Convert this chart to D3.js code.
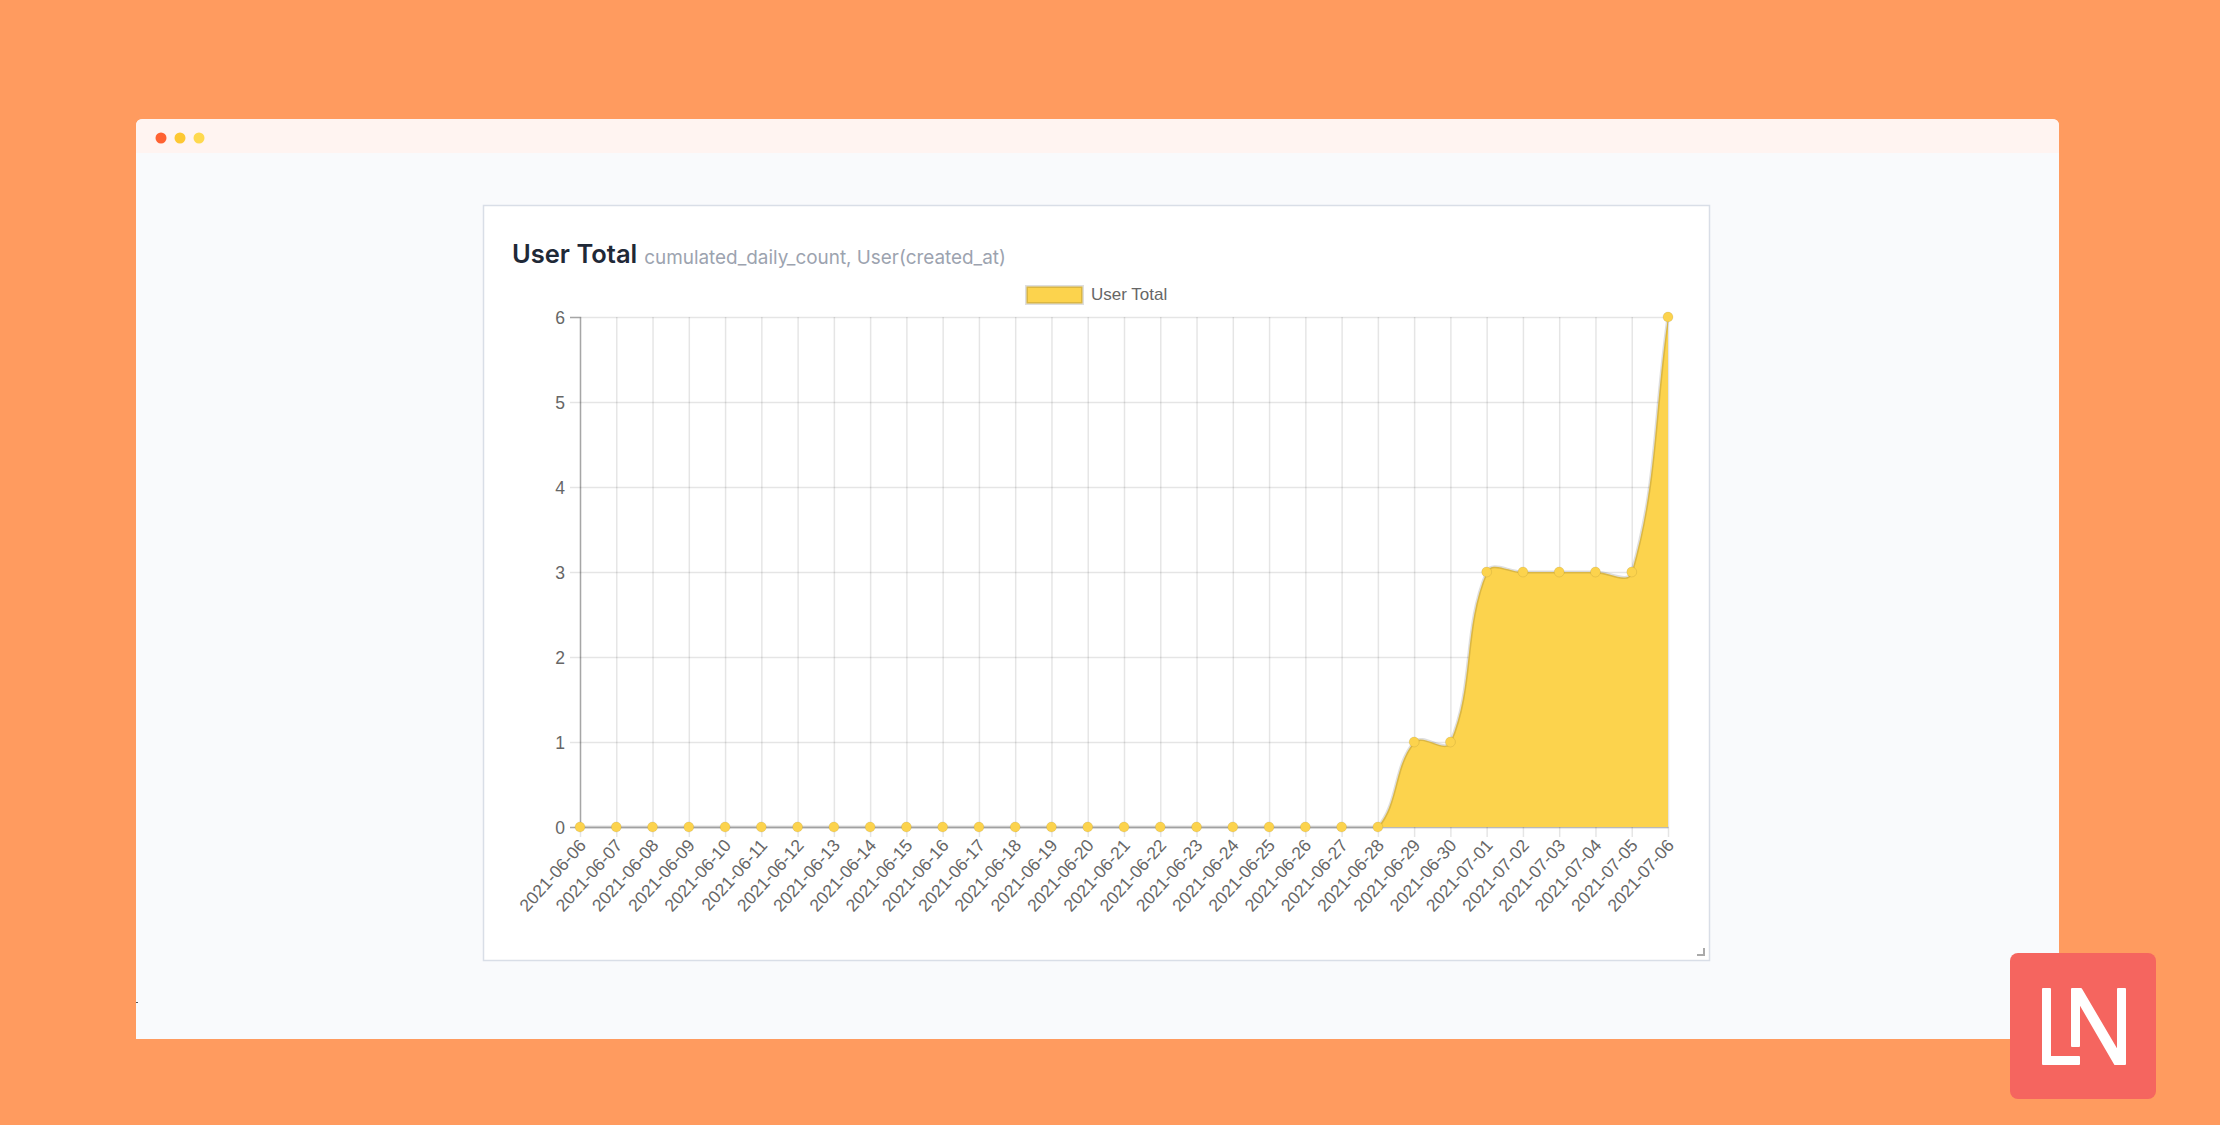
<!DOCTYPE html>
<html>
<head>
    <meta charset="utf-8">
    <title>User Total</title>
    <script src="https://d3js.org/d3.v7.min.js"></script>
    <style>
        html, body { margin: 0; padding: 0; background: #ff9b5f; }
        svg { display: block; }
        .axis text { font-family: "Liberation Sans", Arial, sans-serif; font-size: 17.5px; fill: #666; }
    </style>
</head>

<body>
    <svg id="chart" width="2220" height="1125"></svg>
    <script>
        var dates = [
            "2021-06-06", "2021-06-07", "2021-06-08", "2021-06-09", "2021-06-10", "2021-06-11",
            "2021-06-12", "2021-06-13", "2021-06-14", "2021-06-15", "2021-06-16", "2021-06-17",
            "2021-06-18", "2021-06-19", "2021-06-20", "2021-06-21", "2021-06-22", "2021-06-23",
            "2021-06-24", "2021-06-25", "2021-06-26", "2021-06-27", "2021-06-28", "2021-06-29",
            "2021-06-30", "2021-07-01", "2021-07-02", "2021-07-03", "2021-07-04", "2021-07-05",
            "2021-07-06"
        ];
        var userTotal = [
            0, 0, 0, 0, 0, 0,
            0, 0, 0, 0, 0, 0,
            0, 0, 0, 0, 0, 0,
            0, 0, 0, 0, 0, 1,
            1, 3, 3, 3, 3, 3,
            6
        ];
        var yTicks = [0, 1, 2, 3, 4, 5, 6];
        var chartTitle = "User Total";
        var chartSubtitle = "cumulated_daily_count, User(created_at)";
        var legendLabel = "User Total";
        var windowDots = ["#ff6232", "#fdc832", "#fed94f"];

        var yellow = "#fcd34d";
        var edge = "rgba(0,0,0,0.13)";
        var svg = d3.select("#chart");

        // browser window
        var winLeft = 136, winTop = 119, winRight = 2059, winBottom = 1039;
        svg.append("path")
            .attr("fill", "#f9fafc")
            .attr("d", "M" + winLeft + " " + winBottom + " V" + (winTop + 7) + " Q" + winLeft + " " + winTop + " " + (winLeft + 7) + " " + winTop +
                " H" + (winRight - 7) + " Q" + winRight + " " + winTop + " " + winRight + " " + (winTop + 7) + " V" + winBottom + " Z");
        svg.append("path")
            .attr("fill", "#fff4f1")
            .attr("d", "M" + winLeft + " 153 V" + (winTop + 7) + " Q" + winLeft + " " + winTop + " " + (winLeft + 7) + " " + winTop +
                " H" + (winRight - 7) + " Q" + winRight + " " + winTop + " " + winRight + " " + (winTop + 7) + " V153 Z");
        svg.selectAll(".dot").data(windowDots).enter().append("circle")
            .attr("cx", function (d, i) { return 161 + i * 19; })
            .attr("cy", 138)
            .attr("r", 5.5)
            .attr("fill", function (d) { return d; });
        svg.append("rect").attr("x", 136).attr("y", 1002).attr("width", 2).attr("height", 1).attr("fill", "#555");

        // card
        svg.append("rect")
            .attr("x", 483.5).attr("y", 205.5).attr("width", 1226).attr("height", 755)
            .attr("fill", "#fff").attr("stroke", "#d9dee7").attr("stroke-width", 1.5);

        var title = svg.append("text")
            .attr("x", 512).attr("y", 263)
            .style("font-family", "Inter, sans-serif");
        title.append("tspan")
            .attr("font-size", 25.5).attr("font-weight", 600).attr("fill", "#1f2937")
            .text(chartTitle);
        title.append("tspan")
            .attr("dx", 7).attr("dy", 1).attr("font-size", 18.9).attr("fill", "#9ca3af")
            .text(chartSubtitle);

        // resize handle
        svg.append("path")
            .attr("d", "M1704 948 V955 H1697")
            .attr("fill", "none").attr("stroke", "#aaa").attr("stroke-width", 2);

        // legend
        svg.append("rect")
            .attr("x", 1026.5).attr("y", 286.5).attr("width", 56).attr("height", 17)
            .attr("fill", yellow).attr("stroke", edge).attr("stroke-width", 3);
        svg.append("text")
            .attr("x", 1091).attr("y", 300)
            .style("font-family", "'Liberation Sans', Arial, sans-serif").attr("font-size", 17).attr("fill", "#666")
            .text(legendLabel);

        // scales
        var x = d3.scalePoint().domain(dates).range([580, 1668]);
        var y = d3.scaleLinear().domain([0, 6]).range([827, 317]);

        // same spline the original chart uses (tension 0.4, weighted by segment length,
        // control points capped to the plot area)
        function SplineCurve(context) { this._context = context; }
        SplineCurve.prototype = {
            areaStart: function () { this._line = 0; },
            areaEnd: function () { this._line = NaN; },
            lineStart: function () { this._pts = []; },
            lineEnd: function () {
                var p = this._pts, c = this._context, t = 0.4;
                if (this._line) c.lineTo(p[0][0], p[0][1]); else c.moveTo(p[0][0], p[0][1]);
                function cap(v) { return Math.max(y.range()[1], Math.min(y.range()[0], v)); }
                function ctrl(i) {
                    var a = p[Math.max(i - 1, 0)], b = p[i], n = p[Math.min(i + 1, p.length - 1)];
                    var d1 = Math.hypot(b[0] - a[0], b[1] - a[1]), d2 = Math.hypot(n[0] - b[0], n[1] - b[1]);
                    var s = d1 + d2 || 1;
                    return {
                        px: b[0] - t * d1 / s * (n[0] - a[0]), py: cap(b[1] - t * d1 / s * (n[1] - a[1])),
                        nx: b[0] + t * d2 / s * (n[0] - a[0]), ny: cap(b[1] + t * d2 / s * (n[1] - a[1]))
                    };
                }
                for (var i = 1; i < p.length; i++) {
                    var c0 = ctrl(i - 1), c1 = ctrl(i);
                    c.bezierCurveTo(c0.nx, c0.ny, c1.px, c1.py, p[i][0], p[i][1]);
                }
                if (this._line) c.closePath();
                this._line = 1 - this._line;
            },
            point: function (a, b) { this._pts.push([+a, +b]); }
        };
        function splineCurve(context) { return new SplineCurve(context); }

        // axes, the ticks double as grid lines
        var yAxis = svg.append("g")
            .attr("class", "axis")
            .attr("transform", "translate(580,0)")
            .call(d3.axisLeft(y).tickValues(yTicks).tickFormat(d3.format("d")).tickSize(10).tickPadding(5));
        yAxis.selectAll("text").attr("dy", "0.35em");
        yAxis.selectAll(".tick line").clone()
            .attr("x1", 0).attr("x2", 1088);
        yAxis.selectAll(".tick line").attr("stroke", "rgba(0,0,0,0.1)").attr("stroke-width", 1.5);
        yAxis.select(".domain").attr("stroke", "#b9b9b9").attr("stroke-width", 1.5);

        var xAxis = svg.append("g")
            .attr("class", "axis")
            .attr("transform", "translate(0,827)")
            .call(d3.axisBottom(x).tickSize(10).tickSizeOuter(0).tickPadding(2));
        xAxis.selectAll(".tick line").clone()
            .attr("y1", 0).attr("y2", -510);
        xAxis.selectAll(".tick line").attr("stroke", "rgba(0,0,0,0.1)").attr("stroke-width", 1.5);
        xAxis.select(".domain").attr("stroke", "#b9b9b9").attr("stroke-width", 1.5);
        xAxis.selectAll("text")
            .attr("text-anchor", "end")
            .attr("dy", "0.35em")
            .attr("transform", "translate(2,15) rotate(-48)")
            .attr("y", 0);

        // series
        var area = d3.area()
            .x(function (d, i) { return x(dates[i]); })
            .y0(y(0))
            .y1(function (d) { return y(d); })
            .curve(splineCurve);
        var line = d3.line()
            .x(function (d, i) { return x(dates[i]); })
            .y(function (d) { return y(d); })
            .curve(splineCurve);

        svg.append("path").datum(userTotal)
            .attr("fill", yellow)
            .attr("d", area);
        svg.append("path").datum(userTotal)
            .attr("fill", "none")
            .attr("stroke", edge)
            .attr("stroke-width", 3)
            .attr("d", line);

        svg.selectAll(".point").data(userTotal).enter().append("circle")
            .attr("class", "point")
            .attr("cx", function (d, i) { return x(dates[i]); })
            .attr("cy", function (d) { return y(d); })
            .attr("r", 5)
            .attr("fill", yellow)
            .attr("stroke", "rgba(0,0,0,0.08)")
            .attr("stroke-width", 1);

        // logo
        var logo = svg.append("g");
        logo.append("rect")
            .attr("x", 2010).attr("y", 953).attr("width", 146).attr("height", 146).attr("rx", 8)
            .attr("fill", "#f5655f");
        logo.append("path")
            .attr("fill", "#fff").attr("stroke", "#fff").attr("stroke-width", 2).attr("stroke-linejoin", "round")
            .attr("d", "M2043 989 H2050 V1057 H2079 V1064 H2043 Z");
        logo.append("path")
            .attr("fill", "#fff").attr("stroke", "#fff").attr("stroke-width", 2).attr("stroke-linejoin", "round")
            .attr("d", "M2072 989 H2081 L2118 1052 V989 H2125 V1064 H2115 L2079 1002 V1046 H2072 Z");
    </script>
</body>
</html>
